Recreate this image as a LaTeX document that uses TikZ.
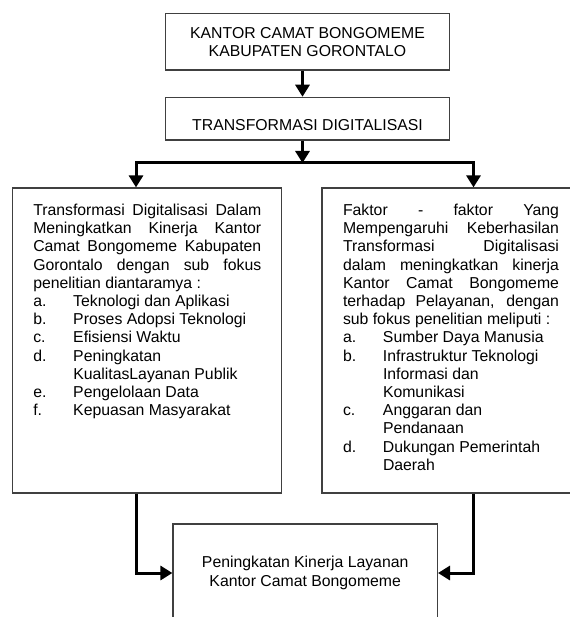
\documentclass[tikz,border=0pt]{standalone}
\usepackage{fontspec}
\setmainfont{Liberation Sans}
\usetikzlibrary{arrows.meta}

% one sub focus entry with a hanging label
\newcommand{\subfocus}[2]{\par\hangindent=40pt\hangafter=1\noindent\makebox[40pt][l]{#1}#2}

\begin{document}
\begin{tikzpicture}[
    x=1pt, y=-1pt,
    font=\fontsize{15.8}{18.2}\selectfont,
    box/.style={draw=black!75, line width=1.2pt, minimum width=284pt, align=center},
    side_box/.style={draw=black!75, line width=1.2pt, inner xsep=20.5pt, inner ysep=16pt},
    flow/.style={line width=3pt, line join=miter, -{Triangle[width=14pt,length=12pt]}}
]

\useasboundingbox (0,0) rectangle (569,617);

% --- Top (office and topic) ---

    % Nodes
    \node[box, minimum height=56.7pt] (office) at (307.5,41.7)
        {KANTOR CAMAT BONGOMEME\\KABUPATEN GORONTALO};
    \node[box, minimum height=42.7pt] (digital) at (307.5,118.7)
        {\raisebox{-6pt}[\height][\depth]{TRANSFORMASI DIGITALISASI}};

    % Branch points
    \coordinate (split) at (302.5,163);
    \coordinate (ldrop) at (136,163);
    \coordinate (rdrop) at (473.5,163);

% --- Middle (two research focus boxes) ---

    \node[side_box] (focus) at (147.25,340.5) {\parbox[c][273pt][t]{228pt}{%
        Transformasi Digitalisasi Dalam\linebreak
        Meningkatkan Kinerja Kantor\linebreak
        Camat Bongomeme Kabupaten\linebreak
        Gorontalo dengan sub fokus\linebreak
        penelitian diantaramya :
        \subfocus{a.}{Teknologi dan Aplikasi}
        \subfocus{b.}{Proses Adopsi Teknologi}
        \subfocus{c.}{Efisiensi Waktu}
        \subfocus{d.}{Peningkatan\newline KualitasLayanan Publik}
        \subfocus{e.}{Pengelolaan Data}
        \subfocus{f.}{Kepuasan Masyarakat}}};

    \node[side_box, inner xsep=21pt] (factor) at (451,340.5) {\parbox[c][273pt][t]{216pt}{%
        Faktor - faktor Yang\linebreak
        Mempengaruhi Keberhasilan\linebreak
        Transformasi Digitalisasi\linebreak
        dalam meningkatkan kinerja\linebreak
        Kantor Camat Bongomeme\linebreak
        terhadap Pelayanan, dengan\linebreak
        sub fokus penelitian meliputi :
        \subfocus{a.}{Sumber Daya Manusia}
        \subfocus{b.}{Infrastruktur Teknologi\newline Informasi dan\newline Komunikasi}
        \subfocus{c.}{Anggaran dan\newline Pendanaan}
        \subfocus{d.}{Dukungan Pemerintah\newline Daerah}}};

% --- Bottom (result) ---

    \node[box, minimum width=264.4pt, minimum height=98pt] (result) at (305.2,573)
        {Peningkatan Kinerja Layanan\\Kantor Camat Bongomeme};

    % Edges
    \draw[flow] (office.south -| split) -- (digital.north -| split);
    \draw[flow] (split) -| (focus.north -| ldrop);
    \draw[flow] (split) -| (factor.north -| rdrop);
    \draw[flow] (digital.south -| split) -- (split);
    \draw[flow] (focus.south -| ldrop) |- (result.west);
    \draw[flow] (factor.south -| rdrop) |- (result.east);

\end{tikzpicture}
\end{document}
